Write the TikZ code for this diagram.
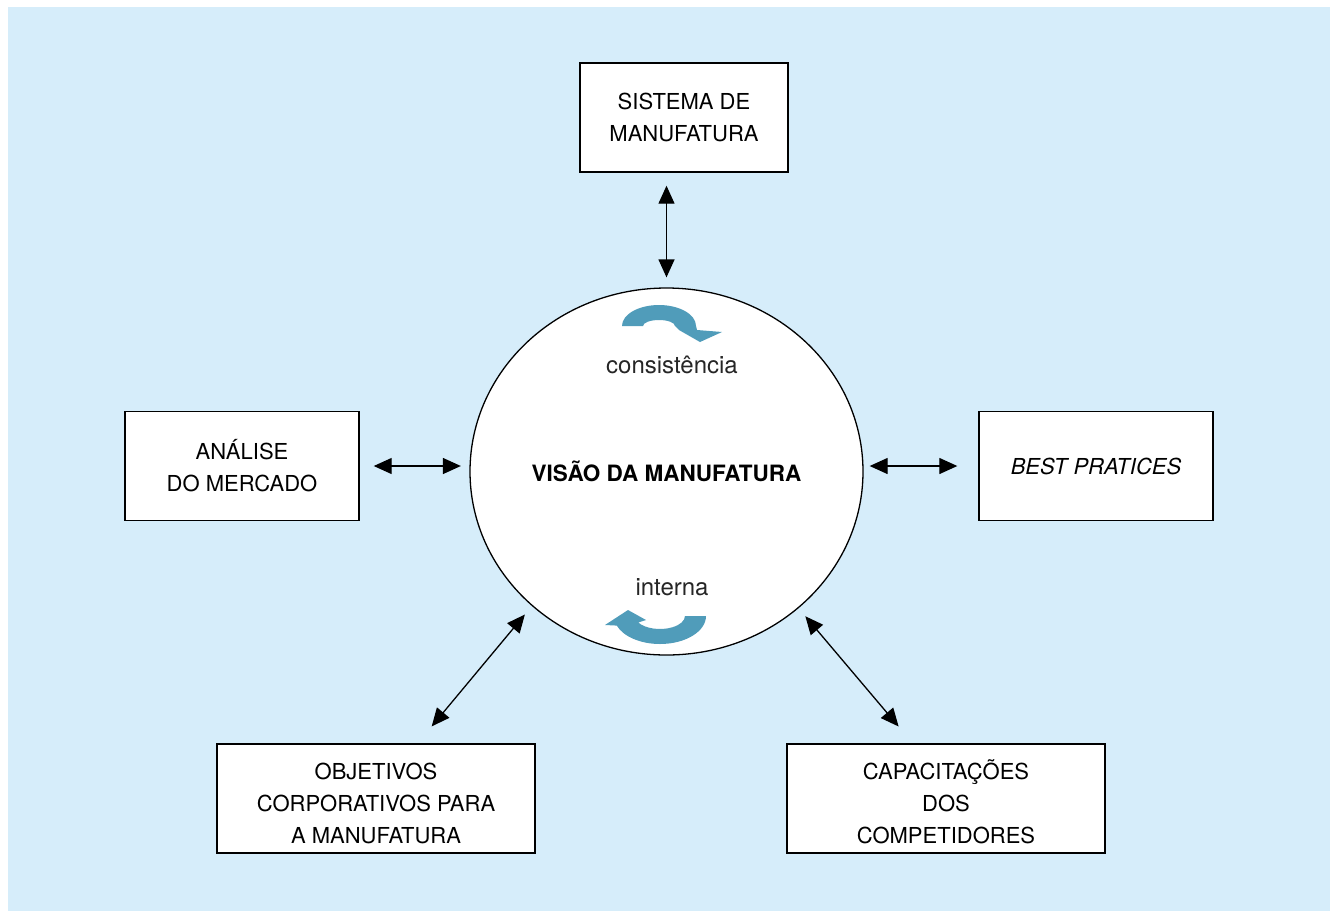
\documentclass[tikz,border=0pt]{standalone}
\usepackage{fontspec}
\setmainfont{TeX Gyre Heros}
\usetikzlibrary{arrows.meta,shapes.geometric}
\definecolor{bgblue}{RGB}{214,237,250}
\definecolor{turncol}{RGB}{80,156,186}
\begin{document}
\begin{tikzpicture}[x=1pt,y=-1pt,
  box/.style={draw=black,line width=1.4pt,fill=white,inner sep=0pt,
    minimum width=#1,minimum height=109pt,align=center,
    font=\fontsize{22}{32}\selectfont},
  box/.default=234pt,
  link/.style={line width=1.3pt,{Triangle[length=18pt,width=16pt]}-{Triangle[length=18pt,width=16pt]}},
  lbl/.style={font=\fontsize{24}{28}\selectfont,text=black!85},
  turning/.style={fill=turncol}]
\useasboundingbox (0,0) rectangle (1330,911);
\fill[bgblue] (8,7) rectangle (1330,911);

% central vision
\node[ellipse,draw=black,line width=1.3pt,fill=white,minimum width=393pt,
  minimum height=367pt,inner sep=0pt,font=\fontsize{22.5}{26}\selectfont\bfseries]
  (circ) at (666.5,471.5) {VISÃO DA MANUFATURA};
\node[lbl] (cons) at (672,365) {consistência};
\node[lbl] (int) at (672,587) {interna};

% surrounding boxes
\node[box=208pt] (sist) at (684,117.5) {SISTEMA DE\\MANUFATURA};
\node[box] (ana) at (242,466) {ANÁLISE\\DO MERCADO};
\node[box] (best) at (1096,466) {\itshape BEST PRATICES};
\node[box=318pt] (obj) at (376,798.5) {\rule{0pt}{26pt}OBJETIVOS\\CORPORATIVOS PARA\\A MANUFATURA};
\node[box=318pt] (cap) at (946,798.5) {\rule{0pt}{27pt}CAPACITAÇÕES\\DOS\\COMPETIDORES};

% connectors
\draw[link,shorten <=13pt,shorten >=10pt] (circ.north |- sist.south) -- (circ.north);
\draw[link,shorten <=14pt,shorten >=8.5pt] (ana.east) -- (ana.east -| circ.west);
\draw[link,shorten <=6pt,shorten >=21pt] (circ.east |- best.west) -- (best.west);
\draw[link,shorten <=22pt,shorten >=11pt] (obj.53) -- (circ.225.6);
\draw[link,shorten <=22pt,shorten >=10.5pt] (cap.121) -- (circ.314.2);

% turning arrows (positive angles run downwards here)
\path[turning] (622,326) arc[start angle=180,end angle=360,x radius=37,y radius=21]
  -- (697,330) -- (722,332) -- (700,342) -- (679,330) -- (675,326)
  arc[start angle=0,end angle=-180,x radius=16,y radius=6] -- cycle;
\path[turning] (685,616) -- (706,616)
  arc[start angle=0,end angle=160,x radius=46,y radius=28]
  -- (605,625) -- (628,610) -- (646,620) -- (638.3,622.5)
  arc[start angle=150,end angle=0,x radius=25,y radius=13] -- cycle;
\end{tikzpicture}
\end{document}
